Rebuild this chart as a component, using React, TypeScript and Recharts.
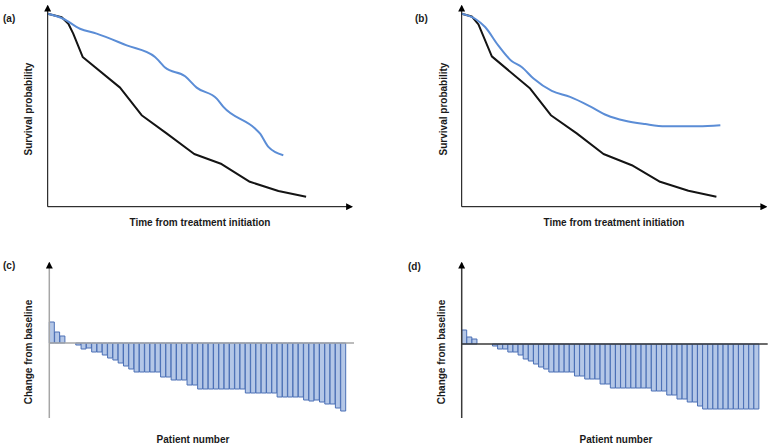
import { LineChart, Line, BarChart, Bar, XAxis, YAxis, ReferenceLine } from "recharts"

// (a) survival curves, time in arbitrary units 0..100
const timeAControl = [0, 4.6, 6.8, 8.4, 11.5, 23.8, 30.9, 39.1, 48.2, 57.2, 66.5, 75.9, 85.0]
const survAControl = [1.0, 0.982, 0.948, 0.897, 0.776, 0.617, 0.474, 0.38, 0.273, 0.221, 0.129, 0.081, 0.052]
const timeATreated = [0, 5.1, 10.6, 16.1, 26.0, 35.3, 36.9, 38.6, 45.2, 49.0, 55.6, 57.8, 68.2, 69.8, 72.6, 77.5]
const survATreated = [1.0, 0.974, 0.922, 0.897, 0.836, 0.776, 0.75, 0.721, 0.676, 0.617, 0.56, 0.517, 0.405, 0.38, 0.31, 0.267]

// (b) survival curves with a plateau
const timeBControl = [0, 3.3, 5.5, 9.9, 22.5, 29.3, 37.8, 46.6, 55.9, 65.2, 74.5, 83.7]
const survBControl = [1.0, 0.986, 0.945, 0.779, 0.612, 0.474, 0.38, 0.273, 0.215, 0.129, 0.083, 0.052]
const timeBTreated = [0, 4.4, 7.7, 12.0, 16.4, 19.7, 23.6, 29.6, 35.6, 42.2, 47.7, 53.7, 60.3, 66.9, 77.8, 85.0]
const survBTreated = [1.0, 0.974, 0.931, 0.836, 0.755, 0.724, 0.664, 0.6, 0.569, 0.52, 0.474, 0.445, 0.428, 0.417, 0.417, 0.422]

// (c) and (d) waterfall: change from baseline per patient
const changeC = [
  21, 11, 7, 0, 0,
  -2, -6, -5, -9, -9, -12, -15, -17, -20, -23, -26,
  -29, -29, -29, -29, -29, -34, -34, -37, -37, -37, -42, -42,
  -46, -46, -46, -46, -46, -46, -46, -46, -46,
  -50, -50, -50, -50, -50, -50, -54, -54, -54, -54, -54,
  -57, -58, -57, -59, -61, -61, -65, -68,
]
const changeD = [
  14, 7, 5, 0, 0, 0,
  -2, -5, -5, -8, -8, -11, -15, -17, -20, -23, -25,
  -28, -28, -28, -28, -28, -32, -32, -35, -35, -35, -40, -40,
  -44, -44, -44, -44, -44, -44, -44, -44,
  -47, -47, -47, -51, -51, -55, -55, -58, -58, -62,
  -65, -65, -65, -65, -65, -65, -65, -65, -65, -65, -65,
]

const zip = (t: number[], s: number[]) => t.map((v, i) => ({ t: v, s: s[i] }))
const bars = (vals: number[]) => vals.map((v, i) => ({ patient: i + 1, change: v }))

const BLUE = "#5b8dd6"
const DARK = "#141414"
const FONT = "'Liberation Sans', Arial, sans-serif"

const axisTitle = (text: string, x: number, y: number, vertical = false) => () => (
  <text
    x={x}
    y={y}
    textAnchor="middle"
    transform={vertical ? `rotate(-90 ${x} ${y})` : undefined}
    fill="#1a1a1a"
    fontFamily={FONT}
    fontWeight="bold"
    fontSize={10}
  >
    {text}
  </text>
)

// axes are 1px wide boxes (recharts skips zero-sized axes), so margins are plot edge minus 1
function SurvivalPanel({ left, width, marginLeft, marginRight, control, treated, yTitleX, xTitleX }: any) {
  return (
    <div style={{ position: "absolute", left, top: 0 }}>
      <LineChart width={width} height={232} margin={{ top: 6, left: marginLeft - 1, right: marginRight, bottom: 24.3 }}>
        <XAxis
          type="number"
          dataKey="t"
          domain={[0, 100]}
          allowDataOverflow
          tick={false}
          tickLine={false}
          height={1}
          axisLine={{ stroke: "#000", strokeWidth: 1, markerEnd: "url(#arrowHead)" }}
          label={axisTitle("Time from treatment initiation", xTitleX, 225.5)}
        />
        <YAxis
          type="number"
          domain={[0, 1.04]}
          allowDataOverflow
          tick={false}
          tickLine={false}
          width={1}
          axisLine={{ stroke: "#000", strokeWidth: 1, markerStart: "url(#arrowHead)" }}
          label={axisTitle("Survival probability", yTitleX, 109, true)}
        />
        <Line data={control} dataKey="s" type="linear" stroke={DARK} strokeWidth={2} strokeLinejoin="round" dot={false} activeDot={false} isAnimationActive={false} />
        <Line data={treated} dataKey="s" type="monotone" stroke={BLUE} strokeWidth={2} dot={false} activeDot={false} isAnimationActive={false} />
      </LineChart>
    </div>
  )
}

function WaterfallPanel({ left, width, marginLeft, marginRight, padRight, data, domain, axisColor, yTitleX, xTitleX }: any) {
  return (
    <div style={{ position: "absolute", left, top: 232 }}>
      <BarChart width={width} height={215} data={data} barCategoryGap={0} barGap={0} margin={{ top: 31, left: marginLeft - 1, right: marginRight, bottom: 28 }}>
        <XAxis
          dataKey="patient"
          axisLine={false}
          tick={false}
          tickLine={false}
          height={1}
          padding={{ left: 0, right: padRight }}
          label={axisTitle("Patient number", xTitleX, 211)}
        />
        <YAxis
          type="number"
          domain={domain}
          allowDataOverflow
          tick={false}
          tickLine={false}
          width={1}
          axisLine={{ stroke: axisColor, strokeWidth: 1.5, markerStart: "url(#arrowHead)" }}
          label={axisTitle("Change from baseline", yTitleX, 120, true)}
        />
        <Bar dataKey="change" fill="#b4c7e7" stroke="#4a6fb5" strokeWidth={1} isAnimationActive={false} />
        <ReferenceLine y={0} stroke={axisColor} strokeWidth={1.5} />
      </BarChart>
    </div>
  )
}

const letterStyle = { fontFamily: FONT, fontWeight: "bold" as const, fontSize: 10, fill: "#1a1a1a" }

export default function App() {
  return (
    <div style={{ position: "absolute", left: 0, top: 0, width: 771, height: 447, background: "#fff", overflow: "hidden" }}>
      <svg width={771} height={447} style={{ position: "absolute", left: 0, top: 0, pointerEvents: "none" }}>
        <defs>
          <marker id="arrowHead" viewBox="0 0 10 10" refX={8} refY={5} markerWidth={7} markerHeight={7} markerUnits="userSpaceOnUse" orient="auto-start-reverse">
            <path d="M0,0 L10,5 L0,10 z" fill="#000" />
          </marker>
        </defs>
        <text x={3} y={22} style={letterStyle}>(a)</text>
        <text x={415} y={22} style={letterStyle}>(b)</text>
        <text x={3} y={269} style={letterStyle}>(c)</text>
        <text x={408} y={270} style={letterStyle}>(d)</text>
      </svg>
      <SurvivalPanel
        left={0}
        width={385}
        marginLeft={47.7}
        marginRight={33.3}
        control={zip(timeAControl, survAControl)}
        treated={zip(timeATreated, survATreated)}
        yTitleX={32}
        xTitleX={200}
      />
      <SurvivalPanel
        left={385}
        width={386}
        marginLeft={76.7}
        marginRight={5}
        control={zip(timeBControl, survBControl)}
        treated={zip(timeBTreated, survBTreated)}
        yTitleX={61.5}
        xTitleX={229}
      />
      <WaterfallPanel
        left={0}
        width={385}
        marginLeft={49.3}
        marginRight={31}
        padRight={8}
        data={bars(changeC)}
        domain={[-75, 80]}
        axisColor="#a6a6a6"
        yTitleX={31.5}
        xTitleX={193}
      />
      <WaterfallPanel
        left={385}
        width={386}
        marginLeft={76.7}
        marginRight={3.3}
        padRight={8.7}
        data={bars(changeD)}
        domain={[-74, 81]}
        axisColor="#3a3a3a"
        yTitleX={60}
        xTitleX={231}
      />
    </div>
  )
}
